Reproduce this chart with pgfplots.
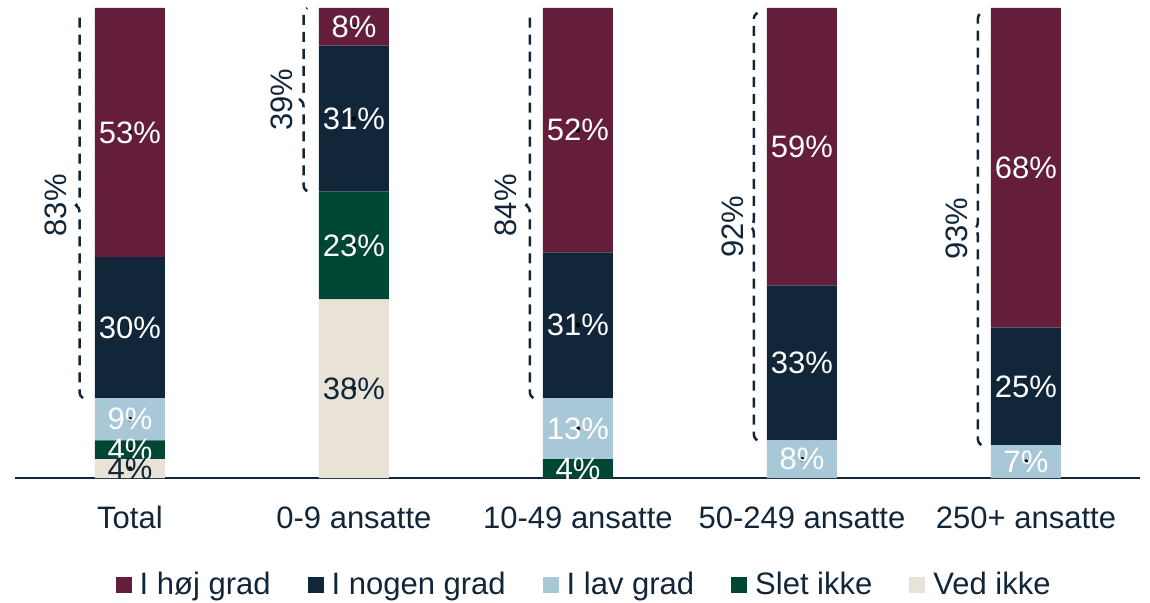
\documentclass[border=0pt]{standalone}
\usepackage{pgfplots}
\pgfplotsset{compat=1.18}
\usepackage{fontspec}
\setmainfont{Liberation Sans}
\usetikzlibrary{decorations.pathreplacing}

\definecolor{hoj}{RGB}{100,29,58}
\definecolor{nogen}{RGB}{18,38,58}
\definecolor{lav}{RGB}{168,200,216}
\definecolor{slet}{RGB}{0,70,52}
\definecolor{ved}{RGB}{232,226,215}

\pgfplotsset{
  base/.style={
    width=1125bp, height=470bp, scale only axis,
    xmin=-0.513, xmax=4.509, ymin=0, ymax=100,
    clip=false,
  },
}

% bracket: line x, bottom, top, label x, label y, text
\newcommand{\bracket}[6]{%
  \draw[nogen, line width=2.5bp, dash pattern=on 10bp off 7bp,
        decorate, decoration={brace, amplitude=7bp, raise=-3.5bp}]
    (axis cs:#1,#2) -- (axis cs:#1,#3);
  \node[text=nogen, rotate=90, anchor=center] at (axis cs:#4,#5) {#6};
}

\begin{document}
\fontsize{31bp}{37bp}\selectfont
\begin{tikzpicture}

\begin{axis}[base, name=main,
  ybar stacked, bar width=70bp,
  axis x line=bottom, axis y line=none,
  axis line style={nogen, line width=2.5bp, -},
  xtick={0,1,2,3,4},
  xticklabels={Total, 0-9 ansatte, 10-49 ansatte, 50-249 ansatte, 250+ ansatte},
  major tick length=0pt,
  xticklabel style={text=nogen, yshift=-18bp},
  ytick=\empty,
  legend columns=5, reverse legend,
  legend style={draw=none, at={(0.505,-0.228)}, anchor=center,
    text=nogen, inner sep=0pt, nodes={inner sep=0pt},
    /tikz/every odd column/.append style={column sep=8bp},
    /tikz/every even column/.append style={column sep=37bp}},
  legend image code/.code={\fill[#1] (0bp,-8bp) rectangle (16bp,8bp);},
]
\addplot[fill=ved, draw=none] coordinates {(0,4) (1,38) (2,0) (3,0) (4,0)};
\addplot[fill=slet, draw=none] coordinates {(0,4) (1,23) (2,4) (3,0) (4,0)};
\addplot[fill=lav, draw=none] coordinates {(0,9) (1,0) (2,13) (3,8) (4,7)};
\addplot[fill=nogen, draw=none] coordinates {(0,30) (1,31) (2,31) (3,33) (4,25)};
\addplot[fill=hoj, draw=none] coordinates {(0,53) (1,8) (2,52) (3,59) (4,68)};
\legend{Ved ikke, Slet ikke, I lav grad, I nogen grad, I høj grad}
\end{axis}

\begin{axis}[base, hide axis]
\addplot[draw=none, mark=*, mark options={draw=none, fill=none},
  nodes near coords, point meta=explicit symbolic,
  nodes near coords align=center,
  every node near coord/.append style={text=white, inner sep=0pt}]
  coordinates {
    (0,6) [4\%] (0,12.5) [9\%] (0,32) [30\%] (0,73.5) [53\%]
    (1,49.5) [23\%] (1,76.5) [31\%] (1,96) [8\%]
    (2,2) [4\%] (2,10.5) [13\%] (2,32.5) [31\%] (2,74) [52\%]
    (3,4) [8\%] (3,24.5) [33\%] (3,70.5) [59\%]
    (4,3.5) [7\%] (4,19.5) [25\%] (4,66) [68\%]
  };
\addplot[draw=none, mark=*, mark options={draw=none, fill=none},
  nodes near coords, point meta=explicit symbolic,
  nodes near coords align=center,
  every node near coord/.append style={text=nogen, inner sep=0pt}]
  coordinates {(0,2) [4\%] (1,19) [38\%]};

\bracket{-0.225}{17}{99}{-0.33}{58}{83\%}
\bracket{0.775}{61}{100}{0.68}{80.5}{39\%}
\bracket{1.785}{17}{99}{1.68}{58}{84\%}
\bracket{2.785}{8}{99}{2.69}{53.5}{92\%}
\bracket{3.785}{7}{99}{3.69}{53}{93\%}
\end{axis}

\pgfresetboundingbox
\useasboundingbox ([shift={(-15bp,-125bp)}]main.south west)
  rectangle ([shift={(10bp,8bp)}]main.north east);
\end{tikzpicture}
\end{document}
